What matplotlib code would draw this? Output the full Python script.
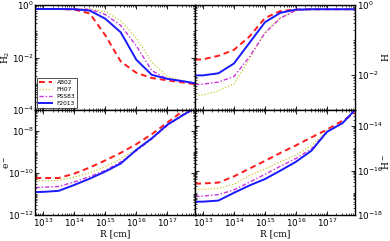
import numpy as np
import matplotlib
matplotlib.use('Agg')
import matplotlib.pyplot as plt
import matplotlib.ticker as mt

# radius grid, log10(R / cm)
logR = [12.75, 13.0, 13.5, 14.0, 14.5, 15.0, 15.5, 16.0, 16.5, 17.0, 17.5, 17.9]

models = ['AB02', 'FH07', 'PSS83', 'F2013']

# log10 abundances
H2 = {
    'AB02':  [-0.15, -0.15, -0.15, -0.17, -0.32, -1.15, -2.15, -2.58, -2.78, -2.87, -2.95, -3.02],
    'FH07':  [-0.15, -0.15, -0.15, -0.15, -0.15, -0.25, -0.60, -1.25, -2.18, -2.72, -2.90, -2.98],
    'PSS83': [-0.15, -0.15, -0.15, -0.15, -0.16, -0.36, -0.78, -1.55, -2.50, -2.82, -2.92, -2.98],
    'F2013': [-0.15, -0.15, -0.15, -0.16, -0.21, -0.52, -1.04, -2.08, -2.66, -2.81, -2.90, -2.98],
}
H = {
    'AB02':  [-1.56, -1.55, -1.45, -1.28, -0.90, -0.37, -0.17, -0.13, -0.12, -0.12, -0.12, -0.12],
    'FH07':  [-2.60, -2.57, -2.45, -2.25, -1.55, -0.77, -0.36, -0.16, -0.12, -0.12, -0.12, -0.12],
    'PSS83': [-2.27, -2.26, -2.20, -2.04, -1.48, -0.80, -0.37, -0.15, -0.12, -0.12, -0.12, -0.12],
    'F2013': [-2.01, -2.01, -1.95, -1.67, -1.08, -0.49, -0.22, -0.13, -0.12, -0.12, -0.12, -0.12],
}
elec = {
    'AB02':  [-10.24, -10.24, -10.24, -10.03, -9.74, -9.40, -9.04, -8.63, -8.15, -7.60, -7.05, -6.60],
    'FH07':  [-10.37, -10.37, -10.35, -10.20, -9.99, -9.70, -9.32, -8.88, -8.32, -7.70, -7.20, -6.85],
    'PSS83': [-10.69, -10.68, -10.64, -10.43, -10.17, -9.88, -9.47, -8.95, -8.38, -7.75, -7.22, -6.88],
    'F2013': [-10.91, -10.90, -10.85, -10.57, -10.27, -9.93, -9.55, -8.90, -8.35, -7.70, -7.25, -6.90],
}
Hm = {
    'AB02':  [-16.59, -16.58, -16.54, -16.26, -15.91, -15.56, -15.20, -14.86, -14.50, -14.15, -13.75, -13.40],
    'FH07':  [-16.86, -16.85, -16.80, -16.62, -16.22, -15.92, -15.60, -15.30, -14.88, -14.20, -13.85, -13.30],
    'PSS83': [-17.17, -17.15, -17.08, -16.87, -16.52, -16.17, -15.80, -15.45, -15.02, -14.25, -13.85, -13.30],
    'F2013': [-17.40, -17.40, -17.35, -17.00, -16.67, -16.38, -16.00, -15.60, -15.10, -14.25, -13.86, -13.27],
}

styles = {
    'AB02':  dict(color='#ff1a1a', ls=(0, (3, 2)), lw=1.4),
    'FH07':  dict(color='#cccc33', ls=(0, (1, 1.5)), lw=0.9),
    'PSS83': dict(color='#cc33dd', ls=(0, (3, 1.5, 1, 1.5)), lw=1.0),
    'F2013': dict(color='#1a1aff', ls='-', lw=1.4),
}

R = 10.0 ** np.array(logR)

fig, axs = plt.subplots(2, 2, figsize=(3.9, 2.41), dpi=100, sharex=True)
fig.subplots_adjust(left=0.091, right=0.91, top=0.979, bottom=0.108,
                    wspace=0, hspace=0)

panels = [(axs[0, 0], H2, (1e-4, 1e0), r'$\mathregular{H_2}$', 'left'),
          (axs[0, 1], H, (1e-3, 1e0), r'$\mathregular{H}$', 'right'),
          (axs[1, 0], elec, (1e-12, 1e-7), r'$\mathregular{e^-}$', 'left'),
          (axs[1, 1], Hm, (1e-18, 5.4e-14), r'$\mathregular{H^-}$', 'right')]

for ax, d, yl, lab, side in panels:
    for m in models:
        ax.plot(R, 10.0 ** np.array(d[m]), label=m, **styles[m])
    ax.set_xscale('log')
    ax.set_yscale('log')
    ax.set_xlim(10 ** 12.75, 10 ** 17.9)
    ax.set_ylim(*yl)
    ax.yaxis.set_major_locator(mt.LogLocator(base=100.0, numticks=10))
    ax.yaxis.set_minor_locator(mt.LogLocator(base=10.0, subs=np.arange(1, 10), numticks=20))
    ax.yaxis.set_minor_formatter(mt.NullFormatter())
    ax.xaxis.set_major_locator(mt.LogLocator(base=10.0, numticks=10))
    ax.xaxis.set_minor_locator(mt.LogLocator(base=10.0, subs=np.arange(2, 10), numticks=20))
    ax.xaxis.set_minor_formatter(mt.NullFormatter())
    ax.tick_params(which='both', direction='in', top=True, right=True, labelsize=6.3, pad=1.5)
    ax.tick_params(which='major', length=3, width=0.6)
    ax.tick_params(which='minor', length=1.5, width=0.5)
    for s in ax.spines.values():
        s.set_linewidth(1.0)
    ax.set_ylabel(lab, family='serif', fontsize=6.5)
    if side == 'right':
        ax.yaxis.tick_right()
        ax.yaxis.set_label_position('right')
        ax.tick_params(which='both', left=True, labelleft=False, labelright=True)
        ax.yaxis.set_label_coords(1.16, 0.5)
    else:
        ax.yaxis.set_label_coords(-0.15, 0.5)

for ax in axs[1]:
    ax.set_xlabel('R [cm]', family='serif', fontsize=6.5)
    ax.xaxis.set_label_coords(0.5, -0.135)

axs[0, 0].legend(loc='lower left', fontsize=4.2, frameon=True, fancybox=False,
                 edgecolor='black', handlelength=2.2, borderpad=0.35,
                 labelspacing=0.35, borderaxespad=0.3).get_frame().set_linewidth(0.6)

plt.savefig('out.png', dpi=100)
